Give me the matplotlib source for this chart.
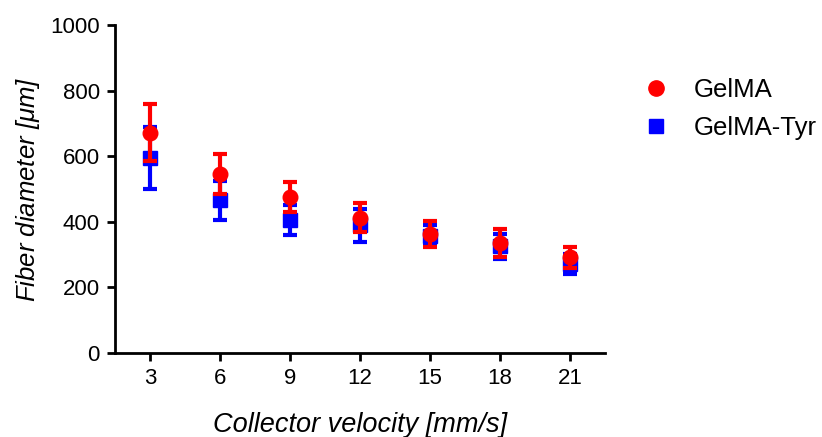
import numpy as np
import matplotlib.pyplot as plt

plt.rcParams['font.family'] = ['Liberation Sans', 'DejaVu Sans']
plt.rcParams['mathtext.fontset'] = 'custom'
plt.rcParams['mathtext.it'] = 'Liberation Sans:italic'

velocity = [3, 6, 9, 12, 15, 18, 21]
gelma_mean = [672, 546, 476, 413, 363, 335, 292]
gelma_sd = [87, 62, 45, 44, 40, 43, 32]
tyr_mean = [595, 465, 405, 390, 358, 325, 272]
tyr_sd = [95, 58, 45, 50, 33, 38, 30]

fig = plt.figure(figsize=(8.22, 4.37), dpi=100)
ax = fig.add_axes([0.14, 0.192, 0.596, 0.751])

ax.errorbar(velocity, tyr_mean, yerr=tyr_sd, fmt='s', color='#0000ff', ms=10,
            elinewidth=3, capsize=5, capthick=3, label='GelMA-Tyr', zorder=2)
ax.errorbar(velocity, gelma_mean, yerr=gelma_sd, fmt='o', color='#ff0000', ms=10.5,
            elinewidth=3, capsize=5, capthick=3, label='GelMA', zorder=3)

ax.set_xlim(1.5, 22.5)
ax.set_ylim(0, 1000)
ax.set_xticks(velocity)
ax.set_yticks([0, 200, 400, 600, 800, 1000])
ax.spines['top'].set_visible(False)
ax.spines['right'].set_visible(False)
for s in ['left', 'bottom']:
    ax.spines[s].set_linewidth(2)
ax.tick_params(width=2, length=6, labelsize=16, colors='black', pad=5)

ax.set_xlabel('Collector velocity [mm/s]', fontsize=19.5, style='italic', labelpad=16)
ax.set_ylabel(r'Fiber diameter [$\mu$m]', fontsize=18.5, style='italic', labelpad=6)

h = [plt.Line2D([], [], marker='o', color='#ff0000', ls='none', ms=11),
     plt.Line2D([], [], marker='s', color='#0000ff', ls='none', ms=10)]
fig.legend(h, ['GelMA', 'GelMA-Tyr'], loc='upper left', bbox_to_anchor=(0.762, 0.845),
           frameon=False, fontsize=18.5, handletextpad=0.74, labelspacing=0.55,
           handlelength=1.5, borderaxespad=0)

fig.savefig('out.png', dpi=100)
